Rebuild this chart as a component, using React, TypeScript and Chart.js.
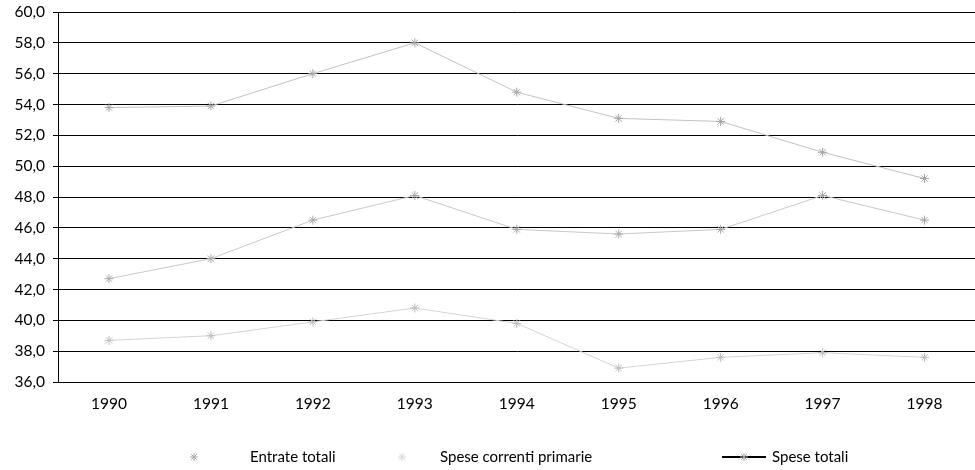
import React, { useEffect, useRef } from "react";
import { Chart, registerables } from "chart.js";

Chart.register(...registerables);

const years = ["1990", "1991", "1992", "1993", "1994", "1995", "1996", "1997", "1998"];
const entrateTotali = [42.7, 44.0, 46.5, 48.1, 45.9, 45.6, 45.9, 48.1, 46.5];
const speseCorrentiPrimarie = [38.7, 39.0, 39.9, 40.8, 39.8, 36.9, 37.6, 37.9, 37.6];
const speseTotali = [53.8, 53.9, 56.0, 58.0, 54.8, 53.1, 52.9, 50.9, 49.2];
const seriesNames = ["Entrate totali", "Spese correnti primarie", "Spese totali"];
const yMin = 36;
const yMax = 60;
const yStep = 2;

const FONT = "Lato, 'DejaVu Sans', sans-serif";

function drawStar(ctx: CanvasRenderingContext2D, x: number, y: number, r: number, color: string) {
  ctx.save();
  ctx.strokeStyle = color;
  ctx.lineWidth = 1;
  ctx.beginPath();
  for (let i = 0; i < 4; i++) {
    const a = (i * Math.PI) / 4;
    ctx.moveTo(x - Math.cos(a) * r, y - Math.sin(a) * r);
    ctx.lineTo(x + Math.cos(a) * r, y + Math.sin(a) * r);
  }
  ctx.stroke();
  ctx.restore();
}

const legendPlugin = {
  id: "customLegend",
  afterDraw(chart: any) {
    const ctx: CanvasRenderingContext2D = chart.ctx;
    const y = 457;
    ctx.save();
    ctx.font = `15px ${FONT}`;
    ctx.fillStyle = "#000";
    ctx.textBaseline = "middle";
    ctx.textAlign = "left";
    drawStar(ctx, 194, y, 4, "#a8a8a8");
    ctx.fillText(seriesNames[0], 250, y);
    drawStar(ctx, 402, y, 4, "#d8d8d8");
    ctx.fillText(seriesNames[1], 440, y);
    ctx.strokeStyle = "#000";
    ctx.lineWidth = 2;
    ctx.beginPath();
    ctx.moveTo(722, y);
    ctx.lineTo(766, y);
    ctx.stroke();
    drawStar(ctx, 744, y, 4, "#a0a0a0");
    ctx.fillText(seriesNames[2], 772, y);
    ctx.restore();
  },
};

const borderPlugin = {
  id: "rightBorder",
  afterDraw(chart: any) {
    const { ctx, chartArea } = chart;
    ctx.save();
    ctx.strokeStyle = "#000";
    ctx.lineWidth = 1;
    ctx.beginPath();
    ctx.moveTo(Math.round(chartArea.right) - 0.5, chartArea.top);
    ctx.lineTo(Math.round(chartArea.right) - 0.5, chartArea.bottom);
    ctx.stroke();
    ctx.restore();
  },
};

export default function App() {
  const canvasRef = useRef<HTMLCanvasElement | null>(null);

  useEffect(() => {
    document.body.style.margin = "0";
    const canvas = canvasRef.current;
    if (!canvas) return;
    const mk = (label: string, data: number[], line: string, pt: string) => ({
      label,
      data,
      borderColor: line,
      backgroundColor: line,
      borderWidth: 1,
      pointStyle: "star" as const,
      pointRadius: 4.5,
      pointBorderColor: pt,
      pointBackgroundColor: pt,
      pointBorderWidth: 1,
      tension: 0,
      fill: false,
    });
    const chart = new Chart(canvas, {
      type: "line",
      data: {
        labels: years,
        datasets: [
          mk(seriesNames[0], entrateTotali, "#c8c8c8", "#a8a8a8"),
          mk(seriesNames[1], speseCorrentiPrimarie, "#d4d4d4", "#bcbcbc"),
          mk(seriesNames[2], speseTotali, "#c2c2c2", "#a4a4a4"),
        ],
      },
      options: {
        animation: false,
        responsive: false,
        maintainAspectRatio: false,
        layout: { padding: { top: 12, right: 1, left: 0, bottom: 0 } },
        plugins: {
          legend: { display: false },
          tooltip: { enabled: false },
        },
        scales: {
          x: {
            offset: true,
            grid: { display: false, drawTicks: false },
            border: { display: true, color: "#000", width: 1 },
            ticks: { color: "#000", font: { family: FONT, size: 15.5 }, padding: 13 },
            afterFit: (scale: any) => {
              scale.height = 88;
              scale.paddingLeft = 0;
              scale.paddingRight = 0;
            },
          },
          y: {
            min: yMin,
            max: yMax,
            grid: { color: "#000", lineWidth: 1, tickLength: 5, drawTicks: true },
            border: { display: true, color: "#000", width: 1 },
            ticks: {
              stepSize: yStep,
              color: "#000",
              padding: 8,
              font: { family: FONT, size: 15.5 },
              callback: (v: any) => Number(v).toFixed(1).replace(".", ","),
            },
            afterFit: (scale: any) => {
              scale.width = 58;
              scale.paddingTop = 0;
              scale.paddingBottom = 0;
            },
          },
        },
      },
      plugins: [legendPlugin, borderPlugin],
    });
    return () => chart.destroy();
  }, []);

  return (
    <div style={{ width: 975, height: 470, overflow: "hidden" }}>
      <canvas ref={canvasRef} width={981} height={470} style={{ display: "block" }} />
    </div>
  );
}
